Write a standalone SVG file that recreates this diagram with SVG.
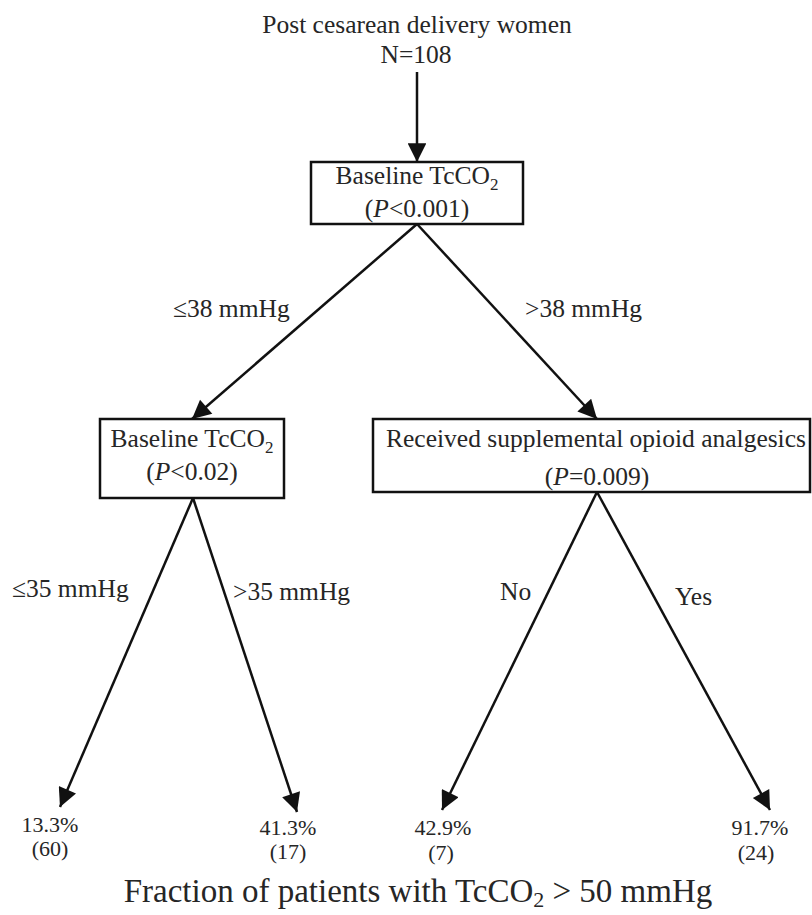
<svg xmlns="http://www.w3.org/2000/svg" width="812" height="915" viewBox="0 0 812 915">
  <style>
    text { font-family: "Liberation Serif", "Times New Roman", serif; fill: #262626; }
    .t { font-size: 25.5px; }
    .leaf { font-size: 22px; text-anchor: middle; }
    .mid { text-anchor: middle; }
    .box { fill: #ffffff; stroke: #111111; stroke-width: 2.5; }
    .edge { stroke: #111111; stroke-width: 2.5; fill: none; }
    .sub { font-size: 17px; }
  </style>
  <defs>
    <marker id="arrow" viewBox="0 0 10 10" refX="10" refY="5" markerWidth="9" markerHeight="7.5" markerUnits="strokeWidth" orient="auto">
      <path d="M0,0 L10,5 L0,10 z" fill="#111111"/>
    </marker>
  </defs>

  <rect width="812" height="915" fill="#ffffff"/>

  <!-- root population -->
  <g id="root">
    <text class="t mid" x="417" y="33">Post cesarean delivery women</text>
    <text class="t mid" x="416" y="63">N=108</text>
  </g>

  <!-- split nodes -->
  <g id="node-baseline-1">
    <rect class="box" x="311" y="162" width="212" height="62"/>
    <text class="t mid" x="417" y="184">Baseline TcCO<tspan class="sub" dy="6">2</tspan></text>
    <text class="t mid" x="417" y="217">(<tspan font-style="italic">P</tspan>&lt;0.001)</text>
  </g>

  <g id="node-baseline-2">
    <rect class="box" x="100" y="419" width="184" height="79"/>
    <text class="t mid" x="192" y="447">Baseline TcCO<tspan class="sub" dy="6">2</tspan></text>
    <text class="t mid" x="192" y="480">(<tspan font-style="italic">P</tspan>&lt;0.02)</text>
  </g>

  <g id="node-opioid">
    <rect class="box" x="373" y="419" width="437" height="73"/>
    <text class="t mid" x="596" y="447">Received supplemental opioid analgesics</text>
    <text class="t mid" x="597" y="485">(<tspan font-style="italic">P</tspan>=0.009)</text>
  </g>

  <!-- leaves -->
  <g id="leaf-1">
    <text class="leaf" x="50" y="832">13.3%</text>
    <text class="leaf" x="50" y="856">(60)</text>
  </g>
  <g id="leaf-2">
    <text class="leaf" x="288" y="835">41.3%</text>
    <text class="leaf" x="288" y="859">(17)</text>
  </g>
  <g id="leaf-3">
    <text class="leaf" x="443" y="835">42.9%</text>
    <text class="leaf" x="441" y="860">(7)</text>
  </g>
  <g id="leaf-4">
    <text class="leaf" x="760" y="835">91.7%</text>
    <text class="leaf" x="756" y="860">(24)</text>
  </g>

  <!-- connectors -->
  <g id="connectors">
    <line class="edge" x1="417" y1="72" x2="417" y2="162" marker-end="url(#arrow)"/>
    <line class="edge" x1="417" y1="224" x2="192" y2="419" marker-end="url(#arrow)"/>
    <line class="edge" x1="417" y1="224" x2="597" y2="419" marker-end="url(#arrow)"/>
    <line class="edge" x1="193" y1="498" x2="60" y2="807" marker-end="url(#arrow)"/>
    <line class="edge" x1="193" y1="498" x2="297" y2="812" marker-end="url(#arrow)"/>
    <line class="edge" x1="597" y1="492" x2="442" y2="810" marker-end="url(#arrow)"/>
    <line class="edge" x1="597" y1="492" x2="770" y2="810" marker-end="url(#arrow)"/>
  </g>

  <!-- branch labels -->
  <g id="labels">
    <text class="t" x="173" y="317">≤38 mmHg</text>
    <text class="t" x="525" y="317">&gt;38 mmHg</text>
    <text class="t" x="12" y="597">≤35 mmHg</text>
    <text class="t" x="233" y="600">&gt;35 mmHg</text>
    <text class="t" x="500" y="600">No</text>
    <text class="t" x="675" y="605">Yes</text>
  </g>

  <!-- outcome caption -->
  <g id="caption">
    <text x="418" y="902" font-size="33" text-anchor="middle">Fraction of patients with TcCO<tspan font-size="22" dy="5">2</tspan><tspan dy="-5"> &gt; 50 mmHg</tspan></text>
  </g>
</svg>
